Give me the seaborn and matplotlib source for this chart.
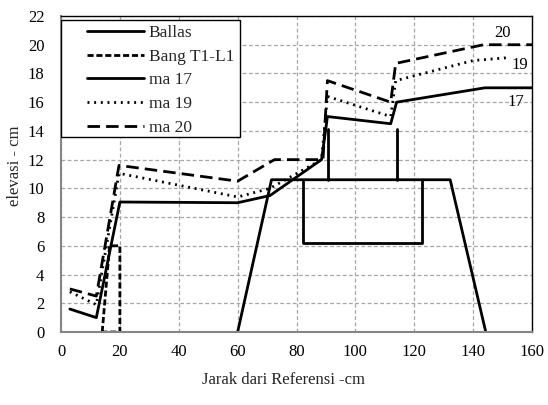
import numpy as np
import pandas as pd
import matplotlib
matplotlib.use("Agg")
import matplotlib.pyplot as plt
from matplotlib.patches import Rectangle
import seaborn as sns

# ---- data ----
# Ballas (ballast + sleeper + rails), drawn as separate pieces
ballas_trap_x = [60, 71.5, 132.2, 144.3]
ballas_trap_y = [0, 10.6, 10.6, 0]
sleeper_x = [82.3, 82.3, 122.6, 122.6]
sleeper_y = [10.6, 6.2, 6.2, 10.6]
rail1_x = [90.7, 90.7]
rail1_y = [10.6, 14.1]
rail2_x = [114.0, 114.0]
rail2_y = [10.6, 14.1]

bang_x = [14, 16.5, 20, 20, 14]
bang_y = [0, 6, 6, 0, 0]

ma17_x = [3, 12, 20, 60, 71, 88.5, 90, 90.5, 112, 114, 144, 160]
ma17_y = [1.6, 1.0, 9.05, 9.0, 9.5, 12.0, 14.2, 15.0, 14.5, 16.0, 17.0, 17.0]

ma19_x = [3, 12, 19.7, 60, 71, 88.5, 90.5, 112, 113.7, 140, 152]
ma19_y = [2.8, 1.9, 11.05, 9.4, 10.0, 12.0, 16.4, 15.0, 17.5, 18.9, 19.1]

ma20_x = [3, 12, 19.7, 60, 72.5, 89, 90.5, 112, 113.7, 143.5, 160]
ma20_y = [3.0, 2.5, 11.6, 10.5, 12.0, 12.0, 17.5, 16.0, 18.7, 20.0, 20.0]

end_labels = ["20", "19", "17"]
end_label_x = [150.0, 156.0, 154.6]
end_label_y = [20.8, 18.6, 16.0]

x_ticks = [0, 20, 40, 60, 80, 100, 120, 140, 160]
y_ticks = [0, 2, 4, 6, 8, 10, 12, 14, 16, 18, 20, 22]

# ---- style ----
sns.set_theme(style="white")
plt.rcParams["font.family"] = ["Liberation Serif", "DejaVu Serif"]

W, H = 548, 405
fig = plt.figure(figsize=(W / 100, H / 100), dpi=100)
ax = fig.add_axes([61 / W, 1 - 332 / H, 471 / W, 316 / H])

LW = 2.0
common = dict(ax=ax, color="black", estimator=None, sort=False, linewidth=LW)

sns.lineplot(x=ballas_trap_x, y=ballas_trap_y, label="Ballas", linestyle="-", **common)
sns.lineplot(x=sleeper_x, y=sleeper_y, linestyle="-", legend=False, **common)
sns.lineplot(x=rail1_x, y=rail1_y, linestyle="-", legend=False, **common)
sns.lineplot(x=rail2_x, y=rail2_y, linestyle="-", legend=False, **common)
sns.lineplot(x=bang_x, y=bang_y, label="Bang T1-L1", **common)
ax.lines[-1].set_dashes((2.2, 1.0))
sns.lineplot(x=ma17_x, y=ma17_y, label="ma 17", **common)
sns.lineplot(x=ma19_x, y=ma19_y, label="ma 19", **common)
ax.lines[-1].set_dashes((0.7, 1.7))
sns.lineplot(x=ma20_x, y=ma20_y, label="ma 20", **common)
ax.lines[-1].set_dashes((4.5, 2.2))

for t, x, y in zip(end_labels, end_label_x, end_label_y):
    ax.text(x, y, t, fontsize=12, ha="center", va="center", color="black")

ax.set_xlim(0, 160)
ax.set_ylim(0, 22)
ax.set_xticks(x_ticks)
ax.set_yticks(y_ticks)
ax.set_xticklabels([str(v) for v in x_ticks])
ax.set_yticklabels([str(v) for v in y_ticks])

ax.grid(True, color="#a6a6a6", linestyle=(0, (3, 2)), linewidth=0.9)
ax.set_axisbelow(True)

for s in ["top", "right"]:
    ax.spines[s].set_color("black")
    ax.spines[s].set_linewidth(1.0)
for s in ["left", "bottom"]:
    ax.spines[s].set_color("#868686")
    ax.spines[s].set_linewidth(1.5)

ax.tick_params(axis="both", which="both", direction="out", length=4, width=1,
               color="#868686", labelsize=12, labelcolor="black")
ax.tick_params(axis="x", pad=5)
ax.tick_params(axis="y", pad=8)

ax.set_xlabel("Jarak dari Referensi -cm", fontsize=12, labelpad=6)
ax.xaxis.set_label_coords((283 - 61) / 471, -(372 - 332) / 316)
ax.set_ylabel("elevasi - cm", fontsize=12)
ax.yaxis.set_label_coords(-(61 - 23) / 471, (332 - 166) / 316)

# legend frame drawn as rectangle to match the wide box of the reference
ax.add_patch(Rectangle((0.0, (332 - 137) / 316), (240 - 61) / 471, (137 - 20) / 316,
                       transform=ax.transAxes, facecolor="white", edgecolor="black",
                       linewidth=1.0, zorder=5))
leg = ax.legend(loc="upper left", bbox_to_anchor=((87 - 61) / 471, (332 - 25) / 316),
                borderaxespad=0, frameon=False, fontsize=12.5,
                handlelength=3.3, handletextpad=0.25,
                labelspacing=0.43, borderpad=0.0)
leg.set_zorder(6)

fig.savefig("out.png", dpi=100)
